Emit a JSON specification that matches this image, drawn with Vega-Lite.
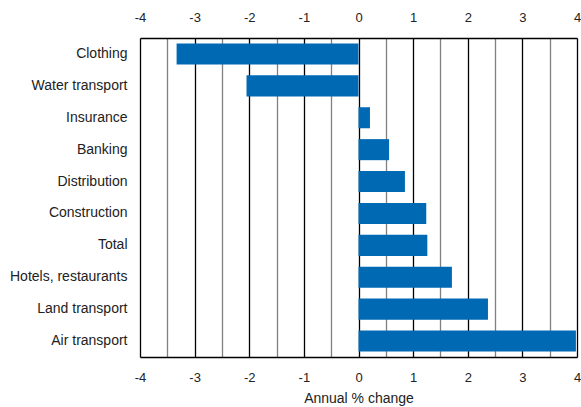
{
  "$schema": "https://vega.github.io/schema/vega-lite/v6.json",
  "autosize": "none",
  "width": 437,
  "height": 319,
  "padding": {"left": 140, "top": 38, "right": 4, "bottom": 50},
  "background": "white",
  "config": {
    "font": "Liberation Sans",
    "view": {"stroke": null},
    "axis": {"labelFont": "Liberation Sans", "titleFont": "Liberation Sans", "labelColor": "#222", "titleColor": "#222"}
  },
  "data": {
    "values": [
      {"sector": "Clothing", "change": -3.33},
      {"sector": "Water transport", "change": -2.05},
      {"sector": "Insurance", "change": 0.21},
      {"sector": "Banking", "change": 0.56},
      {"sector": "Distribution", "change": 0.85},
      {"sector": "Construction", "change": 1.24},
      {"sector": "Total\u2005", "change": 1.26},
      {"sector": "Hotels, restaurants\u2005", "change": 1.71},
      {"sector": "Land transport", "change": 2.37},
      {"sector": "Air transport", "change": 3.98}
    ]
  },
  "encoding": {
    "y": {
      "field": "sector",
      "type": "nominal",
      "sort": null,
      "scale": {"paddingInner": 0.34, "paddingOuter": 0.17},
      "axis": {"title": null, "domain": false, "ticks": false, "labelFontSize": 14, "labelPadding": 13, "labelColor": "#222"}
    }
  },
  "layer": [
    {
      "mark": {"type": "bar", "color": "#0069b4"},
      "encoding": {
        "x": {
          "field": "change",
          "type": "quantitative",
          "scale": {"domain": [-4, 4], "nice": false, "zero": false},
          "axis": {
            "orient": "bottom",
            "values": [-4, -3.5, -3, -2.5, -2, -1.5, -1, -0.5, 0, 0.5, 1, 1.5, 2, 2.5, 3, 3.5, 4],
            "labelExpr": "datum.value % 1 === 0 ? '' + datum.value : ''",
            "grid": true,
            "gridColor": {"condition": {"test": "datum.value % 1 === 0", "value": "#000000"}, "value": "#808080"},
            "gridWidth": 1.3,
            "gridOpacity": 1,
            "ticks": false,
            "domainColor": "#000000",
            "domainWidth": 1.5,
            "labelFontSize": 13,
            "labelPadding": 14,
            "labelFlush": false,
            "title": "Annual % change",
            "titleFontSize": 14,
            "titleFontWeight": "normal",
            "titlePadding": 7
          }
        }
      }
    },
    {
      "mark": {"type": "bar", "opacity": 0},
      "encoding": {
        "x": {
          "field": "change",
          "type": "quantitative",
          "axis": {
            "orient": "top",
            "values": [-4, -3, -2, -1, 0, 1, 2, 3, 4],
            "labelExpr": "'' + datum.value",
            "grid": false,
            "ticks": false,
            "domainColor": "#000000",
            "domainWidth": 1.5,
            "labelFontSize": 13,
            "labelPadding": 14,
            "labelFlush": false,
            "title": null
          }
        }
      }
    }
  ],
  "resolve": {"axis": {"x": "independent"}}
}
